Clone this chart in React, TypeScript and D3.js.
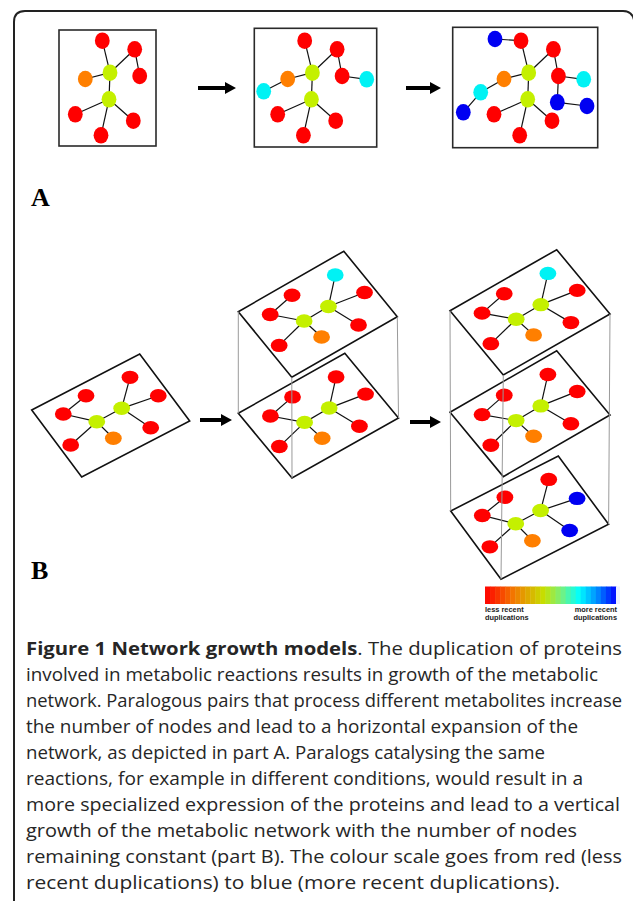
import * as d3 from "d3";

const W = 633;
const H = 901;

const nodeColors: Record<string, string> = {
  red: "#ff0000",
  orange: "#ff7f00",
  lime: "#c4f000",
  cyan: "#00f2f4",
  blue: "#0000f2",
};

// part A: the starting network, offsets from each step's origin
const baseNodes = [
  { id: "n0", x: 43.3, y: 10.7, c: "red" },
  { id: "n1", x: 75.7, y: 19.3, c: "red" },
  { id: "n2", x: 80.7, y: 46, c: "red" },
  { id: "n3", x: 51, y: 42.7, c: "lime" },
  { id: "n4", x: 26.3, y: 49, c: "orange" },
  { id: "n5", x: 50, y: 69.3, c: "lime" },
  { id: "n6", x: 16.3, y: 84.3, c: "red" },
  { id: "n7", x: 74.3, y: 90.7, c: "red" },
  { id: "n8", x: 42, y: 105.3, c: "red" },
];
const baseLinks = [
  ["n0", "n3"], ["n3", "n1"], ["n1", "n2"], ["n4", "n3"],
  ["n3", "n5"], ["n5", "n6"], ["n5", "n8"], ["n5", "n7"],
];

// horizontal growth steps
const stepsA = [
  { ox: 59, oy: 30, box: [0, 0, 97, 116], nodes: [], links: [] },
  {
    ox: 261.4, oy: 30, box: [-7.1, -1.7, 115.3, 117],
    nodes: [
      { id: "c1", x: 105.3, y: 49.3, c: "cyan" },
      { id: "c2", x: 2.3, y: 61.3, c: "cyan" },
    ],
    links: [["n2", "c1"], ["n4", "c2"]],
  },
  {
    ox: 477.7, oy: 30, box: [-25, -2.7, 120, 117.7],
    nodes: [
      { id: "c1", x: 106, y: 49.3, c: "cyan" },
      { id: "c2", x: 3, y: 62.3, c: "cyan" },
      { id: "b1", x: 17.3, y: 9, c: "blue" },
      { id: "b2", x: -14.4, y: 82.3, c: "blue" },
      { id: "b3", x: 79.6, y: 72.3, c: "blue" },
      { id: "b4", x: 109.3, y: 76, c: "blue" },
    ],
    links: [["n2", "c1"], ["n4", "c2"], ["b1", "n0"], ["c2", "b2"], ["n2", "b3"], ["b3", "b4"]],
  },
];

// part B: network in plane coordinates (u along back edge, v along side edge)
const planeNodes = [
  { id: "t", u: 0.819, v: 0.197, c: "red" },
  { id: "r", u: 0.916, v: 0.553, c: "red" },
  { id: "L2", u: 0.609, v: 0.484, c: "lime" },
  { id: "lr", u: 0.706, v: 0.855, c: "red" },
  { id: "ul", u: 0.434, v: 0.149, c: "red" },
  { id: "l", u: 0.191, v: 0.219, c: "red" },
  { id: "L1", u: 0.376, v: 0.489, c: "lime" },
  { id: "o", u: 0.404, v: 0.76, c: "orange" },
  { id: "bl", u: 0.086, v: 0.594, c: "red" },
];
const planeLinks = [
  ["ul", "l"], ["l", "L1"], ["L1", "L2"], ["L2", "t"],
  ["L2", "r"], ["L2", "lr"], ["L1", "o"], ["L1", "bl"],
];

const planes = [
  { left: [31.7, 410], e1: [108, -56], e2: [50, 67], recolor: {} },
  { left: [238.3, 311.7], e1: [105.5, -60.5], e2: [53.5, 65.5], recolor: { t: "cyan" } },
  { left: [238.3, 413.3], e1: [106.5, -60], e2: [53.7, 64.7], recolor: {} },
  { left: [450, 310.7], e1: [106.7, -61], e2: [53.3, 64.3], recolor: { t: "cyan" } },
  { left: [450, 412.3], e1: [106.7, -61.6], e2: [53.3, 64.3], recolor: {} },
  { left: [450.7, 511], e1: [107.6, -55], e2: [50.3, 68.3], recolor: { r: "blue", lr: "blue" } },
];

// vertical stacks: [top plane, bottom plane]
const stacks = [[1, 2], [3, 5]];

const arrows = [
  { x1: 198, x2: 236, y: 88 },
  { x1: 406, x2: 441, y: 88 },
  { x1: 200, x2: 232, y: 420 },
  { x1: 410, x2: 441, y: 422 },
];

const scaleStops = [0, 0.22, 0.45, 0.58, 0.72, 0.86, 1];
const scaleColors = ["#ff0000", "#f27a00", "#c6e000", "#7af07a", "#00ffff", "#0088ff", "#0000ff"];
const bandCount = 26;

const captionLines = [
  "involved in metabolic reactions results in growth of the metabolic",
  "network. Paralogous pairs that process different metabolites increase",
  "the number of nodes and lead to a horizontal expansion of the",
  "network, as depicted in part A. Paralogs catalysing the same",
  "reactions, for example in different conditions, would result in a",
  "more specialized expression of the proteins and lead to a vertical",
  "growth of the metabolic network with the number of nodes",
  "remaining constant (part B). The colour scale goes from red (less",
  "recent duplications) to blue (more recent duplications).",
];
const captionEnds = [622, 598, 622, 578, 545, 583, 620, 577, 622, 560];

function planePoint(p: any, u: number, v: number): [number, number] {
  return [
    p.left[0] + u * p.e1[0] + v * p.e2[0],
    p.left[1] + u * p.e1[1] + v * p.e2[1],
  ];
}

function Arrow({ x1, x2, y }: { x1: number; x2: number; y: number }) {
  const head = 11;
  const path = d3.path();
  path.moveTo(x1, y - 2);
  path.lineTo(x2 - head, y - 2);
  path.lineTo(x2 - head, y - 6);
  path.lineTo(x2, y);
  path.lineTo(x2 - head, y + 6);
  path.lineTo(x2 - head, y + 2);
  path.lineTo(x1, y + 2);
  path.closePath();
  return <path d={path.toString()} fill="#000" />;
}

function StepA({ step }: { step: any }) {
  const x = d3.scaleLinear().domain([0, 1]).range([step.ox, step.ox + 1]);
  const y = d3.scaleLinear().domain([0, 1]).range([step.oy, step.oy + 1]);
  const nodes = [...baseNodes, ...step.nodes];
  const byId = new Map(nodes.map((n: any) => [n.id, n]));
  const links = [...baseLinks, ...step.links];
  const [bx0, by0, bx1, by1] = step.box;
  return (
    <g>
      <rect x={x(bx0)} y={y(by0)} width={x(bx1) - x(bx0)} height={y(by1) - y(by0)}
        fill="none" stroke="#2a2a2a" strokeWidth={1.6} />
      {links.map(([a, b], i) => {
        const na: any = byId.get(a);
        const nb: any = byId.get(b);
        return <line key={i} x1={x(na.x)} y1={y(na.y)} x2={x(nb.x)} y2={y(nb.y)} stroke="#111" strokeWidth={1.2} />;
      })}
      {nodes.map((n: any) => (
        <ellipse key={n.id} cx={x(n.x)} cy={y(n.y)} rx={7.4} ry={8.3} fill={nodeColors[n.c]} />
      ))}
    </g>
  );
}

function Plane({ p }: { p: any }) {
  const pos = new Map(planeNodes.map((n) => [n.id, planePoint(p, n.u, n.v)]));
  const corners = [planePoint(p, 0, 0), planePoint(p, 1, 0), planePoint(p, 1, 1), planePoint(p, 0, 1)];
  const outline = d3.line()(corners as [number, number][]) + "Z";
  return (
    <g>
      <path d={outline} fill="none" stroke="#111" strokeWidth={1.6} strokeLinejoin="miter" />
      {planeLinks.map(([a, b], i) => {
        const pa = pos.get(a)!;
        const pb = pos.get(b)!;
        return <line key={i} x1={pa[0]} y1={pa[1]} x2={pb[0]} y2={pb[1]} stroke="#111" strokeWidth={1.2} />;
      })}
      {planeNodes.map((n) => {
        const [cx, cy] = pos.get(n.id)!;
        const c = (p.recolor as any)[n.id] || n.c;
        return <ellipse key={n.id} cx={cx} cy={cy} rx={8.4} ry={6.7} fill={nodeColors[c]} />;
      })}
    </g>
  );
}

function ColourScale() {
  const x = d3.scaleLinear().domain([0, 1]).range([485, 616]);
  const color = d3.scaleLinear<string>().domain(scaleStops).range(scaleColors);
  const bands = d3.range(bandCount);
  const bw = (x(1) - x(0)) / bandCount;
  return (
    <g>
      {bands.map((i) => (
        <rect key={i} x={x(i / bandCount)} y={586.5} width={bw + 0.4} height={17.5}
          fill={color((i + 0.5) / bandCount)} />
      ))}
      <rect x={616} y={586.5} width={4} height={17.5} fill="#eef0ff" />
      <g fontFamily="'Liberation Sans', Arial, sans-serif" fontWeight="bold" fontSize={7.4} fill="#222">
        <text x={485} y={612}>less recent</text>
        <text x={485} y={620}>duplications</text>
        <text x={617} y={612} textAnchor="end">more recent</text>
        <text x={617} y={620} textAnchor="end">duplications</text>
      </g>
    </g>
  );
}

export default function App() {
  const lineY = d3.scaleLinear().domain([0, 9]).range([655, 889]);
  return (
    <svg width={W} height={H} viewBox={`0 0 ${W} ${H}`} style={{ display: "block", position: "absolute", left: 0, top: 0 }}>
      <rect width={W} height={H} fill="#fff" />
      <path d="M14,905 L14,22 Q14,11 25,11 L623,11 Q632,11 634,20" fill="none" stroke="#222" strokeWidth={2} />

      {stepsA.map((s, i) => <StepA key={i} step={s} />)}
      {arrows.map((a, i) => <Arrow key={i} {...a} />)}

      <text x={31} y={206} fontFamily="'Liberation Serif', 'Times New Roman', serif" fontWeight="bold" fontSize={26}>A</text>
      <text x={31} y={579} fontFamily="'Liberation Serif', 'Times New Roman', serif" fontWeight="bold" fontSize={26}>B</text>

      {planes.map((p, i) => <Plane key={i} p={p} />)}

      {stacks.map(([ti, bi], k) => {
        const top = planes[ti];
        const bot = planes[bi];
        const pairs: [number, number][] = [[0, 0], [1, 1], [0, 1]];
        return pairs.map(([u, v], j) => {
          const a = planePoint(top, u, v);
          const b = planePoint(bot, u, v);
          return <line key={`${k}-${j}`} x1={a[0]} y1={a[1]} x2={b[0]} y2={b[1]} stroke="#9a9a9a" strokeWidth={1} />;
        });
      })}

      <ColourScale />

      <g fontFamily="'Open Sans', 'Noto Sans', sans-serif" fontSize={18.6} fill="#262626">
        <text x={26} y={lineY(0)} textLength={captionEnds[0] - 26} lengthAdjust="spacingAndGlyphs">
          <tspan fontWeight="bold">Figure 1 Network growth models</tspan>
          <tspan>. The duplication of proteins</tspan>
        </text>
        {captionLines.map((t, i) => (
          <text key={i} x={26} y={lineY(i + 1)} textLength={captionEnds[i + 1] - 26} lengthAdjust="spacingAndGlyphs">{t}</text>
        ))}
      </g>
    </svg>
  );
}
